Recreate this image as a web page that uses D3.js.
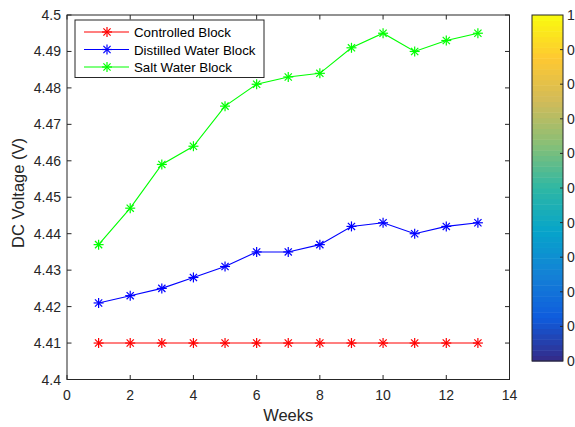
<!DOCTYPE html>
<html>
<head>
<meta charset="utf-8">
<script src="https://cdn.jsdelivr.net/npm/d3@7"></script>
<style>
  body { margin: 0; background: #fff; }
  svg { display: block; font-family: "Liberation Sans", Arial, sans-serif; }
</style>
</head>
<body>
<main></main>
<script>
var weeks = [1, 2, 3, 4, 5, 6, 7, 8, 9, 10, 11, 12, 13];
var controlled = [4.41, 4.41, 4.41, 4.41, 4.41, 4.41, 4.41, 4.41, 4.41, 4.41, 4.41, 4.41, 4.41];
var distilled = [4.421, 4.423, 4.425, 4.428, 4.431, 4.435, 4.435, 4.437, 4.442, 4.443, 4.440, 4.442, 4.443];
var salt = [4.437, 4.447, 4.459, 4.464, 4.475, 4.481, 4.483, 4.484, 4.491, 4.495, 4.490, 4.493, 4.495];
var seriesNames = ['Controlled Block', 'Distilled Water Block', 'Salt Water Block'];
var seriesColors = ['#ff0000', '#0000ff', '#00ff00'];
var xTicks = [0, 2, 4, 6, 8, 10, 12, 14];
var yTicks = [4.4, 4.41, 4.42, 4.43, 4.44, 4.45, 4.46, 4.47, 4.48, 4.49, 4.5];
var cbTicks = [0, 0.1, 0.2, 0.3, 0.4, 0.5, 0.6, 0.7, 0.8, 0.9, 1];

var width = 575, height = 427;
var plotLeft = 67, plotRight = 509.5, plotTop = 15, plotBottom = 379.5;
var axisColor = '#262626';

var svg = d3.select('main').append('svg')
  .attr('width', width)
  .attr('height', height);

var x = d3.scaleLinear().domain([0, 14]).range([plotLeft, plotRight]);
var y = d3.scaleLinear().domain([4.4, 4.5]).range([plotBottom, plotTop]);

// axes box
svg.append('rect')
  .attr('x', plotLeft).attr('y', plotTop)
  .attr('width', plotRight - plotLeft).attr('height', plotBottom - plotTop)
  .attr('fill', 'none').attr('stroke', axisColor).attr('stroke-width', 1);

var tickLen = 4.5;
function fmtY(d) { return String(+d.toFixed(2)); }

xTicks.forEach(function(t) {
  [[plotBottom, -tickLen], [plotTop, tickLen]].forEach(function(p) {
    svg.append('line')
      .attr('x1', x(t)).attr('x2', x(t))
      .attr('y1', p[0]).attr('y2', p[0] + p[1])
      .attr('stroke', axisColor);
  });
  svg.append('text')
    .attr('x', x(t)).attr('y', plotBottom + 20.5)
    .attr('text-anchor', 'middle')
    .attr('font-size', 14).attr('fill', axisColor)
    .text(t);
});

yTicks.forEach(function(t) {
  [[plotLeft, tickLen], [plotRight, -tickLen]].forEach(function(p) {
    svg.append('line')
      .attr('x1', p[0]).attr('x2', p[0] + p[1])
      .attr('y1', y(t)).attr('y2', y(t))
      .attr('stroke', axisColor);
  });
  svg.append('text')
    .attr('x', plotLeft - 6).attr('y', y(t) + 5)
    .attr('text-anchor', 'end')
    .attr('font-size', 14).attr('fill', axisColor)
    .text(fmtY(t));
});

svg.append('text')
  .attr('x', x(7)).attr('y', 421)
  .attr('text-anchor', 'middle')
  .attr('font-size', 16.5).attr('fill', axisColor)
  .text('Weeks');

svg.append('text')
  .attr('transform', 'translate(23.5,193) rotate(-90)')
  .attr('text-anchor', 'middle')
  .attr('font-size', 16.5).attr('fill', axisColor)
  .text('DC Voltage (V)');

// asterisk marker
function star(g, cx, cy, color) {
  var r = 5, d = r * 0.72;
  var segs = [[-r, 0, r, 0], [0, -r, 0, r], [-d, -d, d, d], [-d, d, d, -d]];
  segs.forEach(function(s) {
    g.append('line')
      .attr('x1', cx + s[0]).attr('y1', cy + s[1])
      .attr('x2', cx + s[2]).attr('y2', cy + s[3])
      .attr('stroke', color).attr('stroke-width', 1.2);
  });
}

var line = d3.line()
  .x(function(d) { return x(d[0]); })
  .y(function(d) { return y(d[1]); });

[controlled, distilled, salt].forEach(function(vals, i) {
  var pts = weeks.map(function(w, j) { return [w, vals[j]]; });
  var g = svg.append('g');
  g.append('path')
    .attr('d', line(pts))
    .attr('fill', 'none')
    .attr('stroke', seriesColors[i])
    .attr('stroke-width', 1.1);
  pts.forEach(function(p) { star(g, x(p[0]), y(p[1]), seriesColors[i]); });
});

// legend
var lg = svg.append('g');
lg.append('rect')
  .attr('x', 75).attr('y', 20)
  .attr('width', 189).attr('height', 57.5)
  .attr('fill', '#fff').attr('stroke', axisColor);
seriesNames.forEach(function(name, i) {
  var ly = 32 + i * 17.5;
  lg.append('line')
    .attr('x1', 84).attr('x2', 129)
    .attr('y1', ly).attr('y2', ly)
    .attr('stroke', seriesColors[i]).attr('stroke-width', 1.1);
  star(lg, 107, ly, seriesColors[i]);
  lg.append('text')
    .attr('x', 134).attr('y', ly + 5)
    .attr('font-size', 13.3).attr('fill', '#000')
    .text(name);
});

// colorbar (parula)
var parula = ['#352a87', '#0f5cdd', '#1481d6', '#06a4ca', '#2eb7a4', '#87bf77', '#d1bb59', '#fec832', '#f9fb0e'];
var cbLeft = 532, cbRight = 563, cbTop = 15, cbBottom = 361;
var cb = d3.scaleLinear().domain([0, 1]).range([cbBottom, cbTop]);
var pal = d3.scaleLinear()
  .domain(d3.range(parula.length).map(function(i) { return i / (parula.length - 1); }))
  .range(parula)
  .interpolate(d3.interpolateRgb);
var nSteps = 64;
for (var k = 0; k < nSteps; k++) {
  svg.append('rect')
    .attr('x', cbLeft)
    .attr('y', cb((k + 1) / nSteps))
    .attr('width', cbRight - cbLeft)
    .attr('height', cb(k / nSteps) - cb((k + 1) / nSteps) + 0.5)
    .attr('fill', pal((k + 0.5) / nSteps));
}
svg.append('rect')
  .attr('x', cbLeft).attr('y', cbTop)
  .attr('width', cbRight - cbLeft).attr('height', cbBottom - cbTop)
  .attr('fill', 'none').attr('stroke', axisColor);
cbTicks.forEach(function(t) {
  if (t > 0 && t < 1) {
    svg.append('line')
      .attr('x1', cbRight).attr('x2', cbRight - 3)
      .attr('y1', cb(t)).attr('y2', cb(t))
      .attr('stroke', axisColor);
  }
  svg.append('text')
    .attr('x', cbRight + 4).attr('y', cb(t) + 5)
    .attr('font-size', 14).attr('fill', axisColor)
    .text(t === 0 || t === 1 ? t : d3.format('.1f')(t));
});
</script>
</body>
</html>
